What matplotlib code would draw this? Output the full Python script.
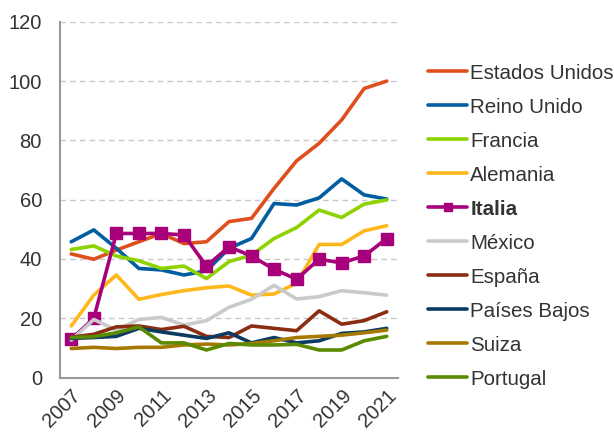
import matplotlib
matplotlib.use("Agg")
import matplotlib.pyplot as plt

plt.rcParams['font.family'] = ['Liberation Sans', 'DejaVu Sans']

# ===============================
# datos
# ===============================

years = list(range(2007, 2022))

estados_unidos = [41.7, 39.9, 43.0, 45.8, 48.6, 45.2, 45.8, 52.6, 53.7, 63.8, 73.1, 79.0, 86.9, 97.5, 100.0]
reino_unido = [45.8, 49.8, 43.6, 36.8, 36.3, 34.6, 36.0, 43.6, 46.9, 58.7, 58.2, 60.6, 67.0, 61.6, 60.2]
francia = [43.2, 44.4, 41.0, 39.4, 36.8, 37.6, 33.4, 39.1, 41.3, 46.9, 50.6, 56.5, 54.0, 58.5, 59.9]
alemania = [17.4, 27.8, 34.6, 26.4, 28.0, 29.3, 30.3, 30.9, 27.8, 28.2, 31.8, 44.9, 44.9, 49.5, 51.2]
italia = [12.9, 20.0, 48.6, 48.6, 48.6, 48.1, 37.6, 44.1, 41.0, 36.5, 33.2, 39.9, 38.7, 41.0, 46.9]
mexico = [12.6, 19.6, 16.0, 19.6, 20.3, 17.7, 19.2, 23.7, 26.4, 31.1, 26.5, 27.3, 29.3, 28.6, 27.8]
espana = [13.6, 14.6, 17.1, 17.4, 16.2, 17.3, 13.9, 13.5, 17.4, 16.6, 15.8, 22.5, 18.0, 19.2, 22.2]
paises_bajos = [13.2, 13.5, 13.9, 16.6, 15.4, 14.3, 13.2, 15.1, 11.7, 13.5, 11.7, 12.4, 14.9, 15.4, 16.6]
suiza = [9.8, 10.2, 9.8, 10.2, 10.2, 11.0, 11.3, 11.0, 11.5, 12.4, 13.5, 13.9, 14.3, 15.1, 16.0]
portugal = [13.5, 13.8, 15.1, 17.1, 11.7, 11.7, 9.3, 11.5, 11.0, 11.0, 11.2, 9.3, 9.3, 12.4, 13.9]

series = [
    ("Estados Unidos", estados_unidos, "#DF4F1E"),
    ("Reino Unido", reino_unido, "#005DA0"),
    ("Francia", francia, "#8ED300"),
    ("Alemania", alemania, "#FFB81C"),
    ("Italia", italia, "#A8007A"),
    ("México", mexico, "#CACACA"),
    ("España", espana, "#8A2D12"),
    ("Países Bajos", paises_bajos, "#0B3B60"),
    ("Suiza", suiza, "#A67A00"),
    ("Portugal", portugal, "#5A8A00"),
]

# ===============================
# figura
# ===============================

fig = plt.figure(figsize=(6.14, 4.32), dpi=100)
ax = fig.add_axes([0.0977, 0.126, 0.5505, 0.8236])

for name, vals, color in series:
    if name == "Italia":
        ax.plot(years, vals, color=color, lw=2.6, marker="s", markersize=8,
                label=name, solid_capstyle="round")
    else:
        ax.plot(years, vals, color=color, lw=2.6, label=name,
                solid_capstyle="round")

ax.set_xlim(2006.5, 2021.5)
ax.set_ylim(0, 120)
ax.set_yticks(range(0, 121, 20))
ax.set_xticks(years[::2])
ax.set_xticklabels([str(y) for y in years[::2]], rotation=45,
                   ha="right", rotation_mode="anchor")

ax.grid(axis="y", linestyle=(0, (4, 3)), color="#C8C8C8", lw=1.0)
ax.set_axisbelow(True)
for side in ["top", "right"]:
    ax.spines[side].set_visible(False)
for side in ["left", "bottom"]:
    ax.spines[side].set_color("#999999")
    ax.spines[side].set_linewidth(1.5)
ax.tick_params(length=0, labelsize=14.5, colors="#333333")
ax.tick_params(axis="y", pad=13)
ax.tick_params(axis="x", pad=6)

leg = ax.legend(loc="upper left", bbox_to_anchor=(1.089, 0.8825), frameon=False,
                fontsize=14.8, handlelength=1.9, handletextpad=0.15,
                labelspacing=0.73, borderaxespad=0, borderpad=0,
                markerscale=0.75)
for txt in leg.get_texts():
    txt.set_color("#333333")
    if txt.get_text() == "Italia":
        txt.set_fontweight("bold")

fig.savefig("out.png", dpi=100)
